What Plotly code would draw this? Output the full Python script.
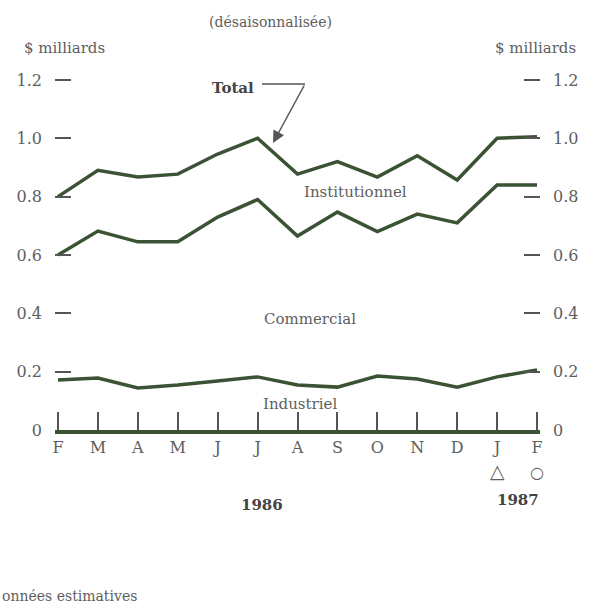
import plotly.graph_objects as go

months = ["F", "M", "A", "M", "J", "J", "A", "S", "O", "N", "D", "J", "F"]
total = [0.80, 0.89, 0.867, 0.877, 0.946, 1.00, 0.877, 0.92, 0.867, 0.94, 0.857, 1.00, 1.005]
commercial_cum = [0.60, 0.682, 0.645, 0.645, 0.73, 0.79, 0.665, 0.747, 0.68, 0.74, 0.71, 0.84, 0.84]
industriel = [0.171, 0.178, 0.144, 0.154, 0.168, 0.182, 0.154, 0.147, 0.185, 0.175, 0.147, 0.182, 0.206]
yticks = [0, 0.2, 0.4, 0.6, 0.8, 1.0, 1.2]
ytick_text = ["0", "0.2", "0.4", "0.6", "0.8", "1.0", "1.2"]

line_col = "#3b5234"
txt_col = "#5e5e5e"
serif = "DejaVu Serif, Liberation Serif, serif"
x = list(range(len(months)))

fig = go.Figure()
for ys in [total, commercial_cum, industriel]:
    fig.add_trace(go.Scatter(x=x, y=ys, mode="lines",
                             line=dict(color=line_col, width=3.5),
                             showlegend=False, hoverinfo="skip"))
# invisible trace for the right axis
fig.add_trace(go.Scatter(x=[0], y=[0], yaxis="y2", mode="markers",
                         marker=dict(opacity=0), showlegend=False, hoverinfo="skip"))

fig.update_layout(
    width=589, height=609,
    margin=dict(l=55, r=49, t=70, b=179),
    paper_bgcolor="white", plot_bgcolor="white",
    font=dict(family=serif, size=15, color=txt_col),
    xaxis=dict(range=[-0.075, 12.075], tickvals=x, ticktext=months,
               showgrid=False, zeroline=False, showline=True,
               linewidth=3.5, linecolor=line_col,
               ticks="inside", ticklen=18, tickwidth=1.5, tickcolor="#555",
               tickfont=dict(size=16, color=txt_col)),
    yaxis=dict(range=[0, 1.234], tickvals=yticks, ticktext=ytick_text,
               showgrid=False, zeroline=False, showline=False,
               ticks="inside", ticklen=16, tickwidth=2, tickcolor="#555",
               ticklabelstandoff=12, tickfont=dict(size=16, color=txt_col)),
    yaxis2=dict(range=[0, 1.234], tickvals=yticks, ticktext=ytick_text,
                overlaying="y", side="right",
                showgrid=False, zeroline=False, showline=False,
                ticks="inside", ticklen=16, tickwidth=2, tickcolor="#555",
                ticklabelstandoff=12, tickfont=dict(size=16, color=txt_col)),
)

def px2paper(px, py):
    return (px - 55) / 485, (430 - py) / 360

ann = []
def add_text(text, px, py, size=15, bold=False, xanchor="center", color=txt_col, family=serif):
    xp, yp = px2paper(px, py)
    t = "<b>%s</b>" % text if bold else text
    ann.append(dict(text=t, x=xp, y=yp, xref="paper", yref="paper",
                    xanchor=xanchor, yanchor="middle", showarrow=False,
                    font=dict(size=size, color=color, family=family)))

add_text("(désaisonnalisée)", 270, 22, size=14)
add_text("$ milliards", 22, 48, size=15, xanchor="left")
add_text("$ milliards", 578, 48, size=15, xanchor="right")
add_text("Total", 233, 88, size=15, bold=True, color="#444")
add_text("Institutionnel", 355, 192, size=15)
add_text("Commercial", 310, 319, size=15)
add_text("Industriel", 300, 404, size=15)
add_text("△", 497, 471, size=19, family="DejaVu Sans")
add_text("○", 537, 472, size=16, family="DejaVu Sans")
add_text("1986", 262, 505, size=15, bold=True, color="#444")
add_text("1987", 518, 500, size=15, bold=True, color="#444")
add_text("onnées estimatives", 0, 596, size=14, xanchor="left")

# arrow from Total label
x0, y0 = px2paper(262, 84)
x1, y1 = px2paper(305, 84)
fig.add_shape(type="line", xref="paper", yref="paper", x0=x0, y0=y0, x1=x1, y1=y1,
              line=dict(color="#555", width=1.5))
xt, yt = px2paper(273, 143)
ann.append(dict(text="", x=xt, y=yt, xref="paper", yref="paper",
                showarrow=True, ax=32, ay=-59, arrowhead=2, arrowsize=1.6,
                arrowwidth=1.5, arrowcolor="#555"))
fig.update_layout(annotations=ann)

fig.write_html("out.html", config={"displayModeBar": False},
               post_script="document.body.style.margin='0px';")
